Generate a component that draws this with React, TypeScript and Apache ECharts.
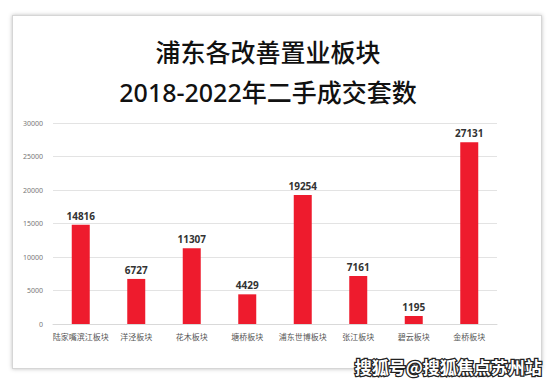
import React, { useEffect, useRef } from "react";
import * as echarts from "echarts";

const titleLines = ["浦东各改善置业板块", "2018-2022年二手成交套数"];
const categories = ["陆家嘴滨江板块", "洋泾板块", "花木板块", "塘桥板块", "浦东世博板块", "张江板块", "碧云板块", "金桥板块"];
const values = [14816, 6727, 11307, 4429, 19254, 7161, 1195, 27131];
const watermark = "搜狐号@搜狐焦点苏州站";

export default function App() {
  const ref = useRef<HTMLDivElement>(null);
  useEffect(() => {
    const chart = echarts.init(ref.current!, null, { renderer: "svg" });
    chart.setOption({
      animation: false,
      backgroundColor: "transparent",
      title: {
        text: titleLines.join("\n"),
        left: 263,
        textAlign: "center",
        top: 27,
        textStyle: {
          fontFamily: "'Noto Sans', 'Noto Sans CJK SC', sans-serif",
          fontSize: 25,
          fontWeight: 500,
          color: "#111",
          lineHeight: 40,
        },
      },
      grid: { left: 53, right: 56, top: 123, bottom: 58 },
      xAxis: {
        type: "category",
        data: categories,
        axisLine: { lineStyle: { color: "#d9d9d9" } },
        axisTick: { show: false },
        axisLabel: { color: "#555", fontSize: 8, margin: 8, interval: 0, fontFamily: "Noto Sans CJK SC" },
      },
      yAxis: {
        type: "value",
        min: 0,
        max: 30000,
        interval: 5000,
        axisLine: { show: false },
        axisTick: { show: false },
        splitLine: { lineStyle: { color: "#e3e3e3" } },
        axisLabel: {
          color: "#777",
          fontSize: 7,
          margin: 10,
          fontFamily: "Noto Sans",
          formatter: (v: number) => String(v),
        },
      },
      series: [
        {
          type: "bar",
          data: values,
          barWidth: 18,
          itemStyle: { color: "#EE1B2D" },
          label: {
            show: true,
            position: "top",
            color: "#333",
            fontSize: 10,
            fontWeight: "bold",
            fontFamily: "Noto Sans",
            distance: 4,
          },
        },
      ],
      graphic: [
        {
          type: "text",
          right: 10,
          bottom: 6,
          style: {
            text: watermark,
            fontSize: 17,
            fontWeight: "bold",
            fontFamily: "Noto Sans CJK SC",
            fill: "#fff",
            stroke: "#222",
            lineWidth: 2.5,
          },
        },
      ],
    });
    return () => chart.dispose();
  }, []);
  return (
    <div style={{ position: "fixed", left: 0, top: 0, width: 553, height: 382, background: "#fff" }}>
      <div
        style={{
          position: "absolute",
          left: 12,
          top: 15,
          width: 528,
          height: 352,
          border: "1px solid #d6d6d6",
          boxShadow: "0 0 4px rgba(0,0,0,0.25)",
          background: "#fff",
        }}
      />
      <div ref={ref} style={{ position: "absolute", left: 0, top: 0, width: 553, height: 382 }} />
    </div>
  );
}
